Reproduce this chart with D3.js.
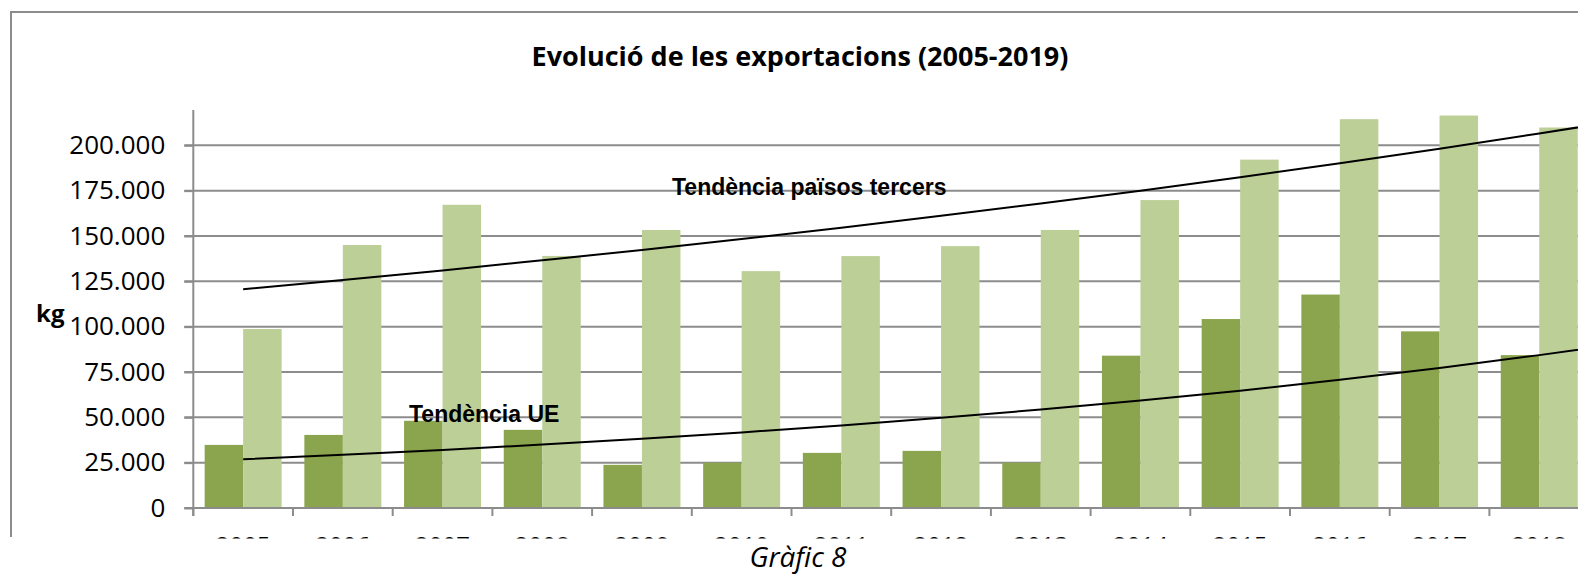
<!DOCTYPE html>
<html>
<head>
<meta charset="utf-8">
<style>
body { margin: 0; background: #fff; }
svg { display: block; }
.gridline { stroke: #8c8c8c; stroke-width: 2; }
.trend { fill: none; stroke: #000; stroke-width: 2; }
.tick text { font-family: "Open Sans", sans-serif; font-size: 26px; fill: #000; }
</style>
<script src="https://d3js.org/d3.v7.min.js"></script>
</head>
<body>
<svg id="chart" width="1578" height="575"></svg>
<script>
// anys i valors (kg) llegits del gràfic
var years = ["2005","2006","2007","2008","2009","2010","2011","2012","2013","2014","2015","2016","2017","2018","2019"];
var ue      = [34800, 40300, 48100, 43100, 23800, 25000, 30400, 31500, 25000, 84000, 104200, 117700, 97400, 84300, 0];
var tercers = [98700, 145000, 167200, 139000, 153300, 130600, 138900, 144400, 153300, 169800, 192100, 214400, 216400, 209800, 0];
// línies de tendència, valor a cada any
var tendUE      = [26900, 29300, 32000, 35000, 38200, 41700, 45500, 49700, 54300, 59300, 64700, 70700, 77200, 84300, 92000];
var tendTercers = [120600, 125700, 131000, 136600, 142300, 148300, 154600, 161100, 167900, 175000, 182400, 190100, 198100, 206500, 215200];
var yTicks = [0, 25000, 50000, 75000, 100000, 125000, 150000, 175000, 200000];

var W = 1578, H = 575;
var axisX = 193.3, axisY = 508, step = 99.7;

var svg = d3.select("#chart");

var fmt = d3.formatLocale({decimal: ",", thousands: ".", grouping: [3], currency: ["", ""]}).format(",d");

var x = d3.scaleBand().domain(years).range([axisX, axisX + step * years.length]).padding(0);
var x1 = d3.scaleBand().domain(["ue", "tercers"]).range([0, x.bandwidth()]).paddingInner(0).paddingOuter(0.295);
var y = d3.scaleLinear().domain([0, 200000]).range([axisY, 145.3]);

// marc
svg.append("path")
  .attr("d", "M11,537 L11,12 L" + W + ",12")
  .attr("fill", "none").attr("stroke", "#8c8c8c").attr("stroke-width", 2);

// títol
svg.append("text")
  .attr("x", 800).attr("y", 66)
  .attr("text-anchor", "middle")
  .style("font-family", "'Open Sans', sans-serif")
  .style("font-weight", "bold").style("font-size", "27px")
  .text("Evolució de les exportacions (2005-2019)");

// línies de la graella
svg.append("g").selectAll("line")
  .data(yTicks.filter(d => d > 0))
  .enter().append("line")
  .attr("class", "gridline")
  .attr("x1", axisX - 9).attr("x2", W)
  .attr("y1", d => y(d)).attr("y2", d => y(d));

var rows = years.map((yr, i) => ({year: yr, ue: ue[i], tercers: tercers[i]}));

var groups = svg.append("g").selectAll("g")
  .data(rows).enter().append("g")
  .attr("transform", d => "translate(" + x(d.year) + ",0)");

groups.append("rect")
  .attr("x", x1("ue")).attr("width", x1.bandwidth())
  .attr("y", d => y(d.ue)).attr("height", d => axisY - y(d.ue))
  .attr("fill", "#8ba54e");

groups.append("rect")
  .attr("x", x1("tercers")).attr("width", x1.bandwidth())
  .attr("y", d => y(d.tercers)).attr("height", d => axisY - y(d.tercers))
  .attr("fill", "#bbcf97");

// eix Y
var yAxis = svg.append("g")
  .attr("transform", "translate(" + axisX + ",0)")
  .call(d3.axisLeft(y).tickValues(yTicks).tickSize(9).tickPadding(19).tickFormat(fmt));
yAxis.select(".domain").remove();
yAxis.selectAll(".tick line").attr("stroke", "#8c8c8c").attr("stroke-width", 2);
yAxis.append("line")
  .attr("x1", 0).attr("x2", 0)
  .attr("y1", y(219500)).attr("y2", axisY + 8)
  .attr("stroke", "#8c8c8c").attr("stroke-width", 2);

// eix X
svg.append("line")
  .attr("x1", axisX - 9).attr("x2", W)
  .attr("y1", axisY).attr("y2", axisY)
  .attr("stroke", "#8c8c8c").attr("stroke-width", 2);

svg.append("g").selectAll("line")
  .data(years).enter().append("line")
  .attr("x1", d => x(d)).attr("x2", d => x(d))
  .attr("y1", axisY).attr("y2", axisY + 8)
  .attr("stroke", "#8c8c8c").attr("stroke-width", 2);

// les etiquetes dels anys queden tallades pel retall de la imatge
svg.append("clipPath").attr("id", "cut")
  .append("rect").attr("x", 0).attr("y", 0).attr("width", W).attr("height", 538.5);

svg.append("g").attr("clip-path", "url(#cut)")
  .selectAll("text").data(years).enter().append("text")
  .attr("x", d => x(d) + x.bandwidth() / 2)
  .attr("y", 554)
  .attr("text-anchor", "middle")
  .style("font-family", "'Open Sans', sans-serif").style("font-size", "24px")
  .text(d => d);

// tendències
var line = d3.line()
  .x((d, i) => x(years[i]) + x.bandwidth() / 2)
  .y(d => y(d))
  .curve(d3.curveMonotoneX);

svg.append("path").attr("class", "trend").attr("d", line(tendTercers));
svg.append("path").attr("class", "trend").attr("d", line(tendUE));

svg.append("text")
  .attr("x", 672).attr("y", 195)
  .style("font-family", "'Liberation Sans', Arial, sans-serif")
  .style("font-weight", "bold").style("font-size", "23px")
  .text("Tendència països tercers");

svg.append("text")
  .attr("x", 409).attr("y", 422)
  .style("font-family", "'Liberation Sans', Arial, sans-serif")
  .style("font-weight", "bold").style("font-size", "23px")
  .text("Tendència UE");

// unitats
svg.append("text")
  .attr("x", 36).attr("y", 322)
  .style("font-family", "'Open Sans', sans-serif")
  .style("font-weight", "bold").style("font-size", "24px")
  .text("kg");

// peu
svg.append("text")
  .attr("x", 798).attr("y", 567)
  .attr("text-anchor", "middle")
  .style("font-family", "'Open Sans', sans-serif")
  .style("font-style", "italic").style("font-size", "28px")
  .text("Gràfic 8");
</script>
</body>
</html>
